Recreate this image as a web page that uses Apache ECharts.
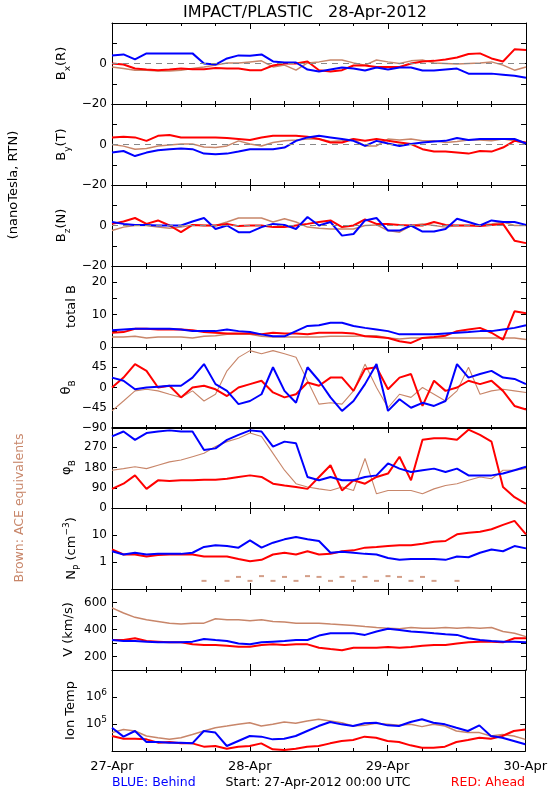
<!DOCTYPE html>
<html><head><meta charset="utf-8">
<script src="https://cdn.jsdelivr.net/npm/echarts@6/dist/echarts.min.js"></script>
<style>html,body{margin:0;padding:0;background:#fff}#c{width:550px;height:800px}</style>
</head><body><div id="c"></div>
<script>
// time axis (hours since 27-Apr-2012 00:00 UTC)
const hours=[0,2,4,6,8,10,12,14,16,18,20,22,24,26,28,30,32,34,36,38,40,42,44,46,48,50,52,54,56,58,60,62,64,66,68,70,72];
const dayLabels=['27-Apr','28-Apr','29-Apr','30-Apr'];

// Bx (R) nT
const bxBlue=[4,4.5,2,5,5,5,5,5,0,-0.5,2.5,4,3.8,4.5,1,0.5,0.5,-3,-4,-3,-2,-2.5,-3.5,-2,-3,-2,-2,-3.5,-3.5,-3,-2.5,-5,-5,-5,-5.5,-6,-7];
const bxRed=[0,-0.5,-2.5,-3,-3.3,-3,-2.5,-2.8,-2.8,-2.2,-2.5,-2.5,-3.3,-3.3,-1,0,0,1,-3.3,-4,-3.3,-1,-1,-1.7,-1.7,-1.7,0,1,1.3,2,3,4.7,5,2.5,1,7,6.7];
const bxBrown=[-1.7,-2.5,-3.3,-3.3,-3.7,-3.7,-3.3,-2.5,-1.7,-0.8,0.3,0.3,0.8,1.3,-1.7,-0.8,-3.3,0.3,0.8,1.7,1.7,0.3,-0.8,1.7,0.8,0,1.3,1.7,0.3,0,-0.3,0,0.3,0.8,-0.8,-3.3,-1.7];
// By (T)
const byBlue=[-4,-3.2,-5.7,-4,-2.8,-2.3,-2,-2.3,-4.5,-4.8,-4.5,-3.5,-2.3,-2.3,-2.3,-1.5,1.8,3.5,4.3,3.5,2.7,1.8,-0.7,1.8,0.5,-0.7,0.2,1,1.5,1.8,3.2,2.2,2.7,2.7,2.7,2.7,0.5];
const byRed=[3.5,3.8,3.5,1.8,4.3,4.7,3.5,3.5,3.5,3.5,3.2,2.7,2.2,3.5,4.3,4.3,4.3,3.8,2.7,1,1,2.7,1.8,2.7,1.8,1,0.2,-2.3,-3.5,-3.5,-4,-4.5,-3.2,-3.5,-1.5,1.8,1];
const byBrown=[0,-0.8,-2.3,-2,-0.7,-0.2,0.2,0.2,-1.2,-1.5,-0.7,1.8,0.2,-0.7,1,1.8,2.2,2.7,2.7,1.5,1.8,2.7,-0.7,-0.7,2.7,2.2,2.7,1.8,1.8,1,1.5,2.2,2.2,1.8,2.7,1.8,0.5];
// Bz (N)
const bzBlue=[1.7,0.8,0.3,0.3,0,0,0,2,3.7,-1.7,0,-3.3,-3.3,-0.8,0.8,0.3,-1.7,4.2,0,1.7,-5,-4.2,2.5,3.7,-2.5,-2.5,0,-3,-3,-1.7,3.3,1.7,0,2.5,1.7,1.7,0.3];
const bzRed=[0.8,2,3.7,0.8,2.5,0,-3.3,0.3,0,0,0.8,-0.3,0,0,-0.8,-0.8,0,0.8,1.7,2.5,-0.8,0,3,0.8,0.8,0.3,0,0,1.7,0.3,0,0,-0.3,0.3,0.8,-7.5,-8.7];
const bzBrown=[-2.5,-0.8,0,0,-0.8,-1.3,-0.8,0.3,0,0,1.7,3.7,3.7,3.7,1.7,3.3,1.7,-0.8,-1.3,-1.7,-1.7,-1.7,0,0.3,-2.5,-3.3,0,0.8,0,-0.8,0,0,0.3,0.8,1.7,0,0];
// total B
const btBlue=[5.2,5.4,5.6,5.6,5.6,5.6,5.4,4.9,4.9,4.9,5.4,4.9,4.6,3.9,3.3,3.3,4.9,6.5,6.7,7.5,7.5,6.5,5.9,5.4,4.9,3.9,3.9,3.9,3.9,4.2,4.4,4.6,4.9,4.9,5.4,5.9,6.7];
const btRed=[4.4,4.6,5.6,5.6,5.4,5.4,5.4,5.2,4.6,4.4,4.2,4.2,4.2,3.9,4.4,4.2,4.2,3.9,4.4,4.4,4.4,4.2,3.3,3.1,2.8,1.8,1.25,2.8,3.1,3.5,4.9,5.4,5.9,4.4,2.3,11,10.4];
const btBrown=[3.1,3.1,3.3,2.8,3.1,3.1,3.1,2.8,3.3,3.5,3.9,3.9,3.9,3.3,3.1,3.1,3.1,3.1,3.1,3.3,3.3,3.3,3.5,3.5,2.8,2.5,2.8,2.8,2.8,2.8,2.8,2.8,2.8,2.8,2.8,2.8,2.3];
// theta_B (deg)
const thBlue=[22,15,-4,0,1.5,4,4,22,52,7.5,-7.5,-37,-30,-15,45,-7.5,-34,45,15,-22,-52,-30,7.5,52,-52,-26,-45,-34,-41,-30,52,22,30,37,22,19,7.5];
const thRed=[0,22,52,37,0,4,-22,0,4,-4,-19,0,7.5,15,-11,-22,-15,11,4,22,22,-7.5,41,45,-4,22,30,-41,15,-7.5,0,15,7.5,15,-7.5,-41,-49];
const thBrown=[-52,-30,-7.5,-4,-7.5,-15,-22,-7.5,-30,-15,37,67,82,75,82,75,67,15,-37,-34,-37,-7.5,52,0,-45,-15,-22,0,-15,-30,-7.5,45,-15,-7.5,-4,-7.5,-11];
// phi_B (deg)
const phBlue=[318,340,303,333,340,345,340,340,258,265,303,325,345,340,273,295,288,138,123,138,123,123,138,145,198,175,160,168,175,160,175,145,145,145,153,168,183];
const phRed=[85,108,145,85,123,120,123,123,126,126,130,138,145,138,108,100,93,85,138,190,78,123,108,138,153,228,123,303,310,310,303,348,325,295,93,48,18];
const phBrown=[168,175,183,175,190,205,213,228,243,273,295,310,333,318,243,168,108,93,85,78,93,78,220,63,78,78,78,63,85,100,108,123,138,130,168,168,175];
// Np (cm^-3)
const npBlue=[2.5,1.9,2.2,1.9,2.0,2.0,2.0,2.2,3.6,4.2,3.9,3.4,6.3,3.4,5.2,6.9,8.4,6.9,6.0,2.2,2.4,2.2,2.0,1.9,1.4,1.2,1.3,1.3,1.3,1.2,1.6,1.5,2.2,2.9,2.5,3.9,3.2];
const npRed=[2.9,1.9,1.9,1.6,1.8,1.9,1.9,1.9,1.6,1.6,1.6,1.3,1.06,1.2,1.9,2.2,1.9,2.5,1.9,2.0,2.5,2.7,3.4,3.6,3.9,4.2,4.2,4.7,5.6,6.0,10.6,12.2,13.3,16.3,23.7,33.5,10.6];
const npBrown=[null,null,null,null,null,null,null,null,0.2,null,0.2,0.28,0.2,0.3,0.2,0.28,0.2,0.3,0.28,0.2,0.28,0.2,0.28,0.2,0.3,0.28,0.2,0.28,0.2,null,0.2,null,null,null,null,null,null];
// V (km/s)
const vBlue=[322,315,315,310,305,305,305,310,330,322,315,297,290,305,310,315,322,322,355,372,372,372,360,385,405,397,385,380,372,365,360,335,322,315,310,310,305];
const vRed=[322,322,335,315,310,305,305,290,285,285,280,272,272,285,290,285,290,290,265,255,247,265,265,265,270,265,270,280,285,285,297,305,310,310,305,335,335];
const vBrown=[560,522,490,472,460,447,440,447,447,480,472,472,465,472,460,455,447,447,447,440,435,430,422,415,410,405,415,410,410,415,410,415,410,415,385,372,347];
// Ion Temp (K)
const tBlue=[7.3e4,3.4e4,5.5e4,2.15e4,2.15e4,2.04e4,2.04e4,1.92e4,5.5e4,4.8e4,1.53e4,2.35e4,3.6e4,3.4e4,2.7e4,2.86e4,3.6e4,5.5e4,8.4e4,1.19e5,9.7e4,8.4e4,1.06e5,1.12e5,8.9e4,8.4e4,1.19e5,1.49e5,1.12e5,9.7e4,7.3e4,5.5e4,8.9e4,3.6e4,3.1e4,2.35e4,1.77e4];
const tRed=[3.6e4,2.86e4,2.86e4,2.7e4,2.04e4,2.15e4,1.92e4,1.92e4,1.45e4,1.53e4,1.22e4,1.45e4,1.53e4,1.92e4,1.15e4,1.09e4,1.22e4,1.45e4,1.53e4,1.92e4,2.35e4,2.55e4,3.4e4,3.1e4,2.35e4,2.15e4,1.62e4,1.33e4,1.33e4,1.45e4,2.15e4,2.55e4,3.1e4,2.86e4,3.6e4,5.5e4,6.3e4];
const tBrown=[4.8e4,6.3e4,5.5e4,3.6e4,3.1e4,2.7e4,3.1e4,4.1e4,5.5e4,7.3e4,8.4e4,9.7e4,1.12e5,8.4e4,9.7e4,1.19e5,1.06e5,1.29e5,1.49e5,1.29e5,1.12e5,8.4e4,8.9e4,1.06e5,9.7e4,8.9e4,9.7e4,8.0e4,9.7e4,8.4e4,5.5e4,4.8e4,4.8e4,3.6e4,4.1e4,3.6e4,2.7e4];

// tick labels per panel
const bLabels=[0,-20], btLabels=[0,10,20], thLabels=[45,0,-45,-90], phLabels=[270,180,90,0];
const npLabels=[1,10], vLabels=[200,400,600], tLabels=[1e5,1e6];

const FONT='DejaVu Sans';
const BLUE='#0000FF', RED='#FF0000', BROWN='#C8866A';
const tops=[23,104,185,266,347,427,508,589,670];

const panels=[
 {min:-20,max:20,interval:10,labels:bLabels,zero:true,data:[bxBrown,bxRed,bxBlue],name:'{m|B}{s|x}{m|(R)}',nx:62},
 {min:-20,max:20,interval:10,labels:bLabels,zero:true,data:[byBrown,byRed,byBlue],name:'{m|B}{s|y}{m|(T)}',nx:62},
 {min:-20,max:20,interval:10,labels:bLabels,zero:true,data:[bzBrown,bzRed,bzBlue],name:'{m|B}{s|z}{m|(N)}',nx:62},
 {min:0,max:25,interval:5,labels:btLabels,data:[btBrown,btRed,btBlue],name:'{m|total B}',nx:72},
 {min:-90,max:90,interval:45,labels:thLabels,data:[thBrown,thRed,thBlue],name:'{m|θ}{s|B}',nx:67,thinBrown:true},
 {min:0,max:360,interval:90,labels:phLabels,data:[phBrown,phRed,phBlue],name:'{m|φ}{s|B}',nx:67,thinBrown:true},
 {log:true,min:0.1,max:100,labels:npLabels,data:[npBrown,npRed,npBlue],name:'{m|N}{s|P}{m| (cm}{p|−3}{m|)}',nx:72,brownScatter:true},
 {min:100,max:700,interval:100,labels:vLabels,data:[vBrown,vRed,vBlue],name:'{m|V (km/s)}',nx:69},
 {log:true,min:1e4,max:1e7,labels:tLabels,data:[tBrown,tRed,tBlue],name:'{m|Ion Temp}',nx:71,sup:true}
];

const nameRich={
  m:{fontFamily:FONT,fontSize:13,lineHeight:20,verticalAlign:'middle',fill:'#000'},
  s:{fontFamily:FONT,fontSize:9,lineHeight:10,verticalAlign:'bottom',fill:'#000'},
  p:{fontFamily:FONT,fontSize:9,lineHeight:10,verticalAlign:'top',fill:'#000'}
};

const grids=[],xAxes=[],yAxes=[],series=[],graphics=[];
const blk={color:'#000',width:1};
panels.forEach((p,i)=>{
  const last=i===panels.length-1;
  grids.push({left:112,width:414,top:tops[i],height:81});
  const xb={type:'value',gridIndex:i,min:0,max:72,interval:24,
    axisLine:{show:true,onZero:false,lineStyle:blk},
    axisTick:{show:true,inside:true,length:6,lineStyle:blk},
    minorTick:{show:true,splitNumber:4,length:3,lineStyle:blk},
    splitLine:{show:false}};
  xAxes.push(Object.assign({},xb,{position:'bottom',
    axisLabel:{show:last,color:'#000',fontFamily:FONT,fontSize:13,margin:9,
      formatter:v=>dayLabels[Math.round(v/24)]||''}}));
  xAxes.push(Object.assign({},xb,{position:'top',axisLabel:{show:false}}));
  const match=v=>p.labels.some(l=>p.log?Math.abs(Math.log10(v)-Math.log10(l))<1e-6:Math.abs(v-l)<1e-9);
  const yb={type:p.log?'log':'value',gridIndex:i,min:p.min,max:p.max,
    axisLine:{show:true,onZero:false,lineStyle:blk},
    axisTick:{show:true,inside:true,length:5,lineStyle:blk},
    splitLine:{show:false}};
  if(p.log) yb.logBase=10; else yb.interval=p.interval;
  yAxes.push(Object.assign({},yb,{position:'left',
    axisLabel:{show:true,color:'#000',fontFamily:FONT,fontSize:12,margin:5,showMinLabel:true,showMaxLabel:true,
      formatter:v=>{
        if(!match(v)) return '';
        if(p.sup) return '{b|10}{e|'+Math.round(Math.log10(v))+'}';
        return String(v).replace('-','−');
      },
      rich:{b:{fontFamily:FONT,fontSize:12,lineHeight:18,verticalAlign:'middle',color:'#000'},
            e:{fontFamily:FONT,fontSize:9,lineHeight:9,verticalAlign:'top',color:'#000'}}}}));
  yAxes.push(Object.assign({},yb,{position:'right',axisLabel:{show:false}}));
  const cols=[BROWN,RED,BLUE];
  p.data.forEach((arr,j)=>{
    const d=hours.map((h,k)=>[h,arr[k]]);
    const s={xAxisIndex:2*i,yAxisIndex:2*i,data:d,silent:true,animation:false};
    if(j===0 && p.brownScatter){
      Object.assign(s,{type:'scatter',symbol:'rect',symbolSize:[5,2],itemStyle:{color:BROWN}});
    } else {
      const w=j===0?(p.thinBrown?1.1:1.5):2;
      Object.assign(s,{type:'line',showSymbol:false,connectNulls:false,
        lineStyle:{color:cols[j],width:w},itemStyle:{color:cols[j]}});
    }
    if(j===0 && p.zero){
      s.markLine={silent:true,symbol:'none',label:{show:false},
        lineStyle:{color:'#888',type:[6,5],width:1},data:[{yAxis:0}]};
    }
    series.push(s);
  });
  graphics.push({type:'text',x:p.nx,y:tops[i]+40.5,rotation:Math.PI/2,
    style:{text:p.name,rich:nameRich,align:'center',verticalAlign:'middle',fill:'#000'}});
});

graphics.push({type:'text',x:305,y:13,style:{text:'IMPACT/PLASTIC   28-Apr-2012',font:'16px "DejaVu Sans"',fill:'#000',align:'center',verticalAlign:'middle'}});
graphics.push({type:'text',x:14,y:185,rotation:Math.PI/2,style:{text:'(nanoTesla, RTN)',font:'13px "DejaVu Sans"',fill:'#000',align:'center',verticalAlign:'middle'}});
graphics.push({type:'text',x:20,y:508,rotation:Math.PI/2,style:{text:'Brown: ACE equivalents',font:'12.5px "DejaVu Sans"',fill:BROWN,align:'center',verticalAlign:'middle'}});
graphics.push({type:'text',x:112,y:783,style:{text:'BLUE: Behind',font:'12.5px "DejaVu Sans"',fill:BLUE,align:'left',verticalAlign:'middle'}});
graphics.push({type:'text',x:318,y:783,style:{text:'Start: 27-Apr-2012 00:00 UTC',font:'12.5px "DejaVu Sans"',fill:'#000',align:'center',verticalAlign:'middle'}});
graphics.push({type:'text',x:525,y:783,style:{text:'RED: Ahead',font:'12.5px "DejaVu Sans"',fill:RED,align:'right',verticalAlign:'middle'}});

const chart=echarts.init(document.getElementById('c'),null,{renderer:'canvas'});
chart.setOption({backgroundColor:'#fff',animation:false,grid:grids,xAxis:xAxes,yAxis:yAxes,series:series,graphic:graphics});
</script></body></html>
